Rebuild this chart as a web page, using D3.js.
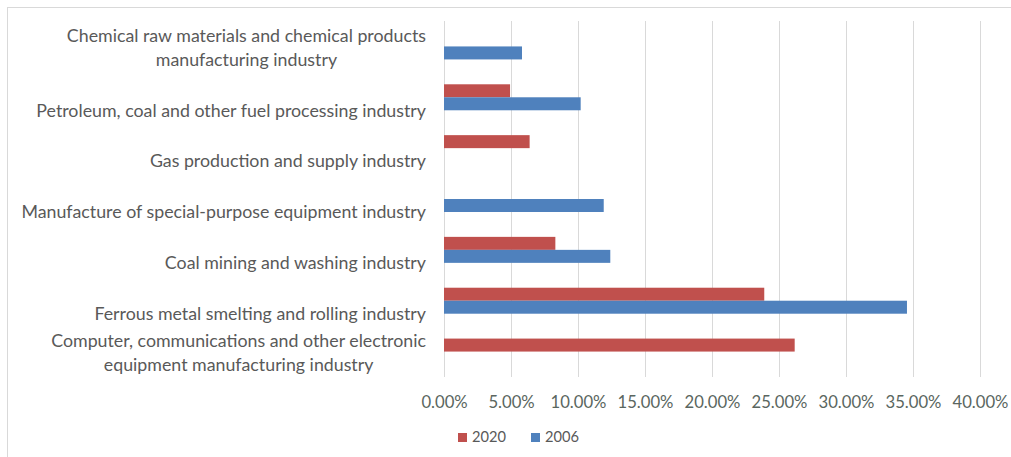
<!DOCTYPE html>
<html>
<head>
<meta charset="utf-8">
<script src="https://cdn.jsdelivr.net/npm/d3@7"></script>
<style>
  html, body { margin: 0; padding: 0; background: #fff; }
  svg { display: block; }
  text { font-family: Lato, "Open Sans", sans-serif; }
</style>
</head>
<body>
<svg id="chart" width="1011" height="457"></svg>
<script>
// ---- data ----
const categories = [
  "Chemical raw materials and chemical products manufacturing industry",
  "Petroleum, coal and other fuel processing industry",
  "Gas production and supply industry",
  "Manufacture of special-purpose equipment industry",
  "Coal mining and washing industry",
  "Ferrous metal smelting and rolling industry",
  "Computer, communications and other electronic equipment manufacturing industry"
];
const labelLines = [
  ["Chemical raw materials and chemical products", "manufacturing industry"],
  ["Petroleum, coal and other fuel processing industry"],
  ["Gas production and supply industry"],
  ["Manufacture of special-purpose equipment industry"],
  ["Coal mining and washing industry"],
  ["Ferrous metal smelting and rolling industry"],
  ["Computer, communications and other electronic", "equipment manufacturing industry"]
];
const seriesNames = ["2020", "2006"];
const values2020 = [null, 0.0493, 0.0639, null, 0.0831, 0.2390, 0.2617];
const values2006 = [0.0582, 0.1020, null, 0.1192, 0.1241, 0.3455, null];
const tickValues = [0, 0.05, 0.10, 0.15, 0.20, 0.25, 0.30, 0.35, 0.40];
const colors = { "2020": "#C0504D", "2006": "#4F81BD" };

// ---- layout ----
const W = 1011, H = 457;
const plot = { left: 444, right: 980, top: 21, bottom: 377 };
const svg = d3.select("#chart");

// frame
svg.append("rect").attr("x", 7.5).attr("y", 7.5).attr("width", W + 10).attr("height", H + 10)
  .attr("fill", "none").attr("stroke", "#D9D9D9").attr("stroke-width", 1);

const x = d3.scaleLinear().domain([0, 0.40]).range([plot.left, plot.right]);
const y = d3.scaleBand().domain(categories).range([plot.top, plot.bottom]).paddingInner(0.489).paddingOuter(0.2445);
const ySub = d3.scaleBand().domain(seriesNames).range([0, y.bandwidth()]);

// font fitting helper
function fitSize(str, targetW) {
  const t = svg.append("text").attr("font-size", 100).text(str);
  const w = t.node().getComputedTextLength();
  t.remove();
  return 100 * targetW / w;
}
const labelSize = fitSize("Manufacture of special-purpose equipment industry", 405);
const tickSize = fitSize("40.00%", 56);
const legendSize = fitSize("2020", 34);

// gridlines
svg.append("g").selectAll("line").data(tickValues).join("line")
  .attr("x1", d => Math.round(x(d)) + 0.5).attr("x2", d => Math.round(x(d)) + 0.5)
  .attr("y1", plot.top).attr("y2", plot.bottom)
  .attr("stroke", "#D9D9D9").attr("stroke-width", 1);

// bars
const rows = categories.map((c, i) => ({ cat: c, "2020": values2020[i], "2006": values2006[i] }));
const g = svg.append("g");
rows.forEach(r => {
  seriesNames.forEach(s => {
    if (r[s] == null) return;
    g.append("rect")
      .attr("x", x(0))
      .attr("y", y(r.cat) + ySub(s))
      .attr("width", x(r[s]) - x(0))
      .attr("height", ySub.bandwidth())
      .attr("fill", colors[s]);
  });
});

// x axis tick labels
const xAxis = d3.axisBottom(x).tickValues(tickValues).tickFormat(d3.format(".2%")).tickSize(0).tickPadding(0);
const ax = svg.append("g").attr("transform", `translate(0, ${plot.bottom + 20})`).call(xAxis);
ax.select(".domain").remove();
ax.selectAll("text").attr("font-size", tickSize).attr("fill", "#5A6660")
  .style("font-family", "Lato, 'Open Sans', sans-serif").attr("dy", "0.32em").attr("y", 6);

// category labels (Excel places each label in a two-line slot; single lines sit in the lower line)
const labelRight = 426;
const lineH = 24;
categories.forEach((c, i) => {
  const lines = labelLines[i];
  const cy = y(c) + y.bandwidth() / 2;
  const offset = (2 - lines.length) * lineH / 2;
  const tg = svg.append("g");
  const texts = lines.map((ln, j) => tg.append("text")
    .attr("font-size", labelSize).attr("fill", "#595959")
    .attr("y", cy + (j - (lines.length - 1) / 2) * lineH + offset + 1)
    .attr("dy", "0.35em")
    .text(ln));
  const widths = texts.map(t => t.node().getComputedTextLength());
  const maxW = d3.max(widths);
  const center = labelRight - maxW / 2;
  texts.forEach(t => t.attr("x", center).attr("text-anchor", "middle"));
});

// legend
const legendY = 437;
const legend = svg.append("g");
const legendX = [458, 531];
seriesNames.forEach((s, i) => {
  legend.append("rect").attr("x", legendX[i]).attr("y", legendY - 4).attr("width", 9).attr("height", 9).attr("fill", colors[s]);
  legend.append("text").attr("x", legendX[i] + 14).attr("y", legendY).attr("dy", "0.35em")
    .attr("font-size", legendSize).attr("fill", "#595959").text(s);
});
</script>
</body>
</html>
